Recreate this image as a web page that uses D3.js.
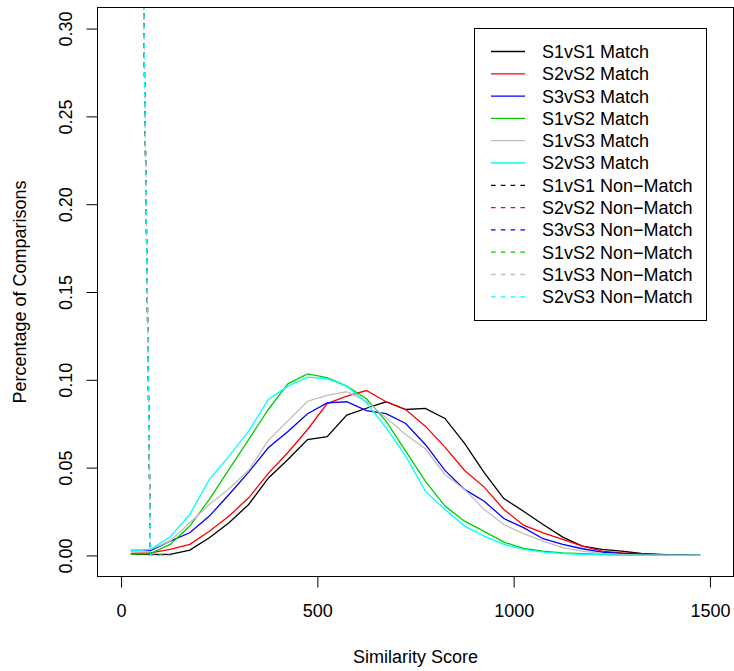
<!DOCTYPE html>
<html>
<head>
<meta charset="utf-8">
<script src="https://cdn.jsdelivr.net/npm/d3@7"></script>
<style>
  html, body { margin: 0; padding: 0; background: #fff; }
  svg { display: block; font-family: "Liberation Sans", Arial, Helvetica, sans-serif; }
</style>
</head>
<body>
<svg id="chart" width="734" height="671"></svg>
<script>
// ---- data ----
const scores = [25, 75, 125, 175, 225, 275, 325, 375, 425, 475, 525, 575, 625, 675, 725,
                775, 825, 875, 925, 975, 1025, 1075, 1125, 1175, 1225, 1275, 1325, 1375, 1425, 1475];

const s1s1Match = [0.0006, 0.0006, 0.0006, 0.0030, 0.0101, 0.0186, 0.0290, 0.0440, 0.0546, 0.0660,
                   0.0676, 0.0799, 0.0838, 0.0875, 0.0831, 0.0837, 0.0780, 0.0638, 0.0472, 0.0324,
                   0.0252, 0.0176, 0.0104, 0.0053, 0.0034, 0.0024, 0.0011, 0.0006, 0.0002, 0.0000];
const s2s2Match = [0.0011, 0.0015, 0.0034, 0.0063, 0.0138, 0.0224, 0.0328, 0.0467, 0.0586, 0.0717,
                   0.0865, 0.0907, 0.0939, 0.0875, 0.0831, 0.0736, 0.0617, 0.0484, 0.0389, 0.0262,
                   0.0172, 0.0129, 0.0091, 0.0053, 0.0024, 0.0015, 0.0008, 0.0003, 0.0001, 0.0000];
const s3s3Match = [0.0028, 0.0028, 0.0081, 0.0129, 0.0224, 0.0347, 0.0474, 0.0613, 0.0706, 0.0807,
                   0.0869, 0.0875, 0.0825, 0.0807, 0.0751, 0.0632, 0.0484, 0.0376, 0.0309, 0.0210,
                   0.0158, 0.0095, 0.0063, 0.0038, 0.0019, 0.0011, 0.0006, 0.0002, 0.0001, 0.0000];
const s1s2Match = [0.0006, 0.0011, 0.0063, 0.0167, 0.0319, 0.0490, 0.0660, 0.0831, 0.0977, 0.1034,
                   0.1012, 0.0964, 0.0892, 0.0765, 0.0594, 0.0423, 0.0281, 0.0195, 0.0137, 0.0076,
                   0.0040, 0.0024, 0.0015, 0.0010, 0.0006, 0.0003, 0.0001, 0.0000, 0.0000, 0.0000];
const s1s3Match = [0.0023, 0.0034, 0.0081, 0.0186, 0.0290, 0.0380, 0.0485, 0.0655, 0.0766, 0.0878,
                   0.0911, 0.0932, 0.0878, 0.0784, 0.0689, 0.0607, 0.0461, 0.0376, 0.0262, 0.0176,
                   0.0124, 0.0081, 0.0044, 0.0024, 0.0011, 0.0006, 0.0002, 0.0001, 0.0000, 0.0000];
const s2s3Match = [0.0028, 0.0034, 0.0106, 0.0233, 0.0433, 0.0565, 0.0708, 0.0888, 0.0964, 0.1015,
                   0.1006, 0.0964, 0.0869, 0.0727, 0.0565, 0.0366, 0.0262, 0.0167, 0.0110, 0.0063,
                   0.0034, 0.0019, 0.0011, 0.0006, 0.0003, 0.0001, 0.0000, 0.0000, 0.0000, 0.0000];

// non-match distributions: only the first bins are drawn in the reference
const s1s1NonMatch = [0.900, 0.0000, 0.0000];
const s2s2NonMatch = [0.900, 0.0000, 0.0000];
const s3s3NonMatch = [0.900, 0.0000, 0.0000];
const s1s2NonMatch = [0.900, 0.0000, 0.0000];
const s1s3NonMatch = [0.910, 0.0002, 0.0000];
const s2s3NonMatch = [0.900, 0.0000, 0.0000];

const seriesNames = ["S1vS1 Match", "S2vS2 Match", "S3vS3 Match", "S1vS2 Match", "S1vS3 Match", "S2vS3 Match",
                     "S1vS1 Non\u2212Match", "S2vS2 Non\u2212Match", "S3vS3 Non\u2212Match",
                     "S1vS2 Non\u2212Match", "S1vS3 Non\u2212Match", "S2vS3 Non\u2212Match"];
const seriesColors = ["#000000", "#ff0000", "#0000ff", "#00cd00", "#bebebe", "#00ffff",
                      "#000000", "#ff0000", "#0000ff", "#00cd00", "#bebebe", "#00ffff"];
const seriesValues = [s1s1Match, s2s2Match, s3s3Match, s1s2Match, s1s3Match, s2s3Match,
                      s1s1NonMatch, s2s2NonMatch, s3s3NonMatch, s1s2NonMatch, s1s3NonMatch, s2s3NonMatch];
const seriesDashed = [false, false, false, false, false, false, true, true, true, true, true, true];

const xTicks = [0, 500, 1000, 1500];
const yTicks = [0, 0.05, 0.10, 0.15, 0.20, 0.25, 0.30];
const xTitle = "Similarity Score";
const yTitle = "Percentage of Comparisons";

// ---- layout ----
const svg = d3.select("#chart");
const pL = 97.5, pR = 733.5, pT = 7.5, pB = 576.5;
const x = d3.scaleLinear().domain([-60, 1560]).range([pL, pR]);
const y = d3.scaleLinear().domain([-0.012, 0.312]).range([pB, pT]);
const FONT = 18;
const DASH = "4.6,5.2";

svg.append("defs").append("clipPath").attr("id", "plotclip")
  .append("rect").attr("x", pL).attr("y", pT).attr("width", pR - pL).attr("height", pB - pT);

// series lines
const line = d3.line().x((d, i) => x(scores[i])).y(d => y(d));
const plot = svg.append("g").attr("clip-path", "url(#plotclip)");
seriesValues.forEach((vals, k) => {
  plot.append("path")
    .datum(vals)
    .attr("d", line)
    .attr("fill", "none")
    .attr("stroke", seriesColors[k])
    .attr("stroke-width", 1.3)
    .attr("stroke-dasharray", seriesDashed[k] ? DASH : null);
});

// box
svg.append("rect").attr("x", pL).attr("y", pT).attr("width", pR - pL).attr("height", pB - pT)
  .attr("fill", "none").attr("stroke", "#000").attr("stroke-width", 1);

// x axis
const gx = svg.append("g").attr("transform", `translate(0,${pB})`)
  .call(d3.axisBottom(x).tickValues(xTicks).tickSize(11).tickFormat(d3.format("d")));
gx.select(".domain").remove();
gx.selectAll(".tick line").attr("stroke", "#000");
gx.selectAll(".tick text").attr("y", 40.5).attr("dy", 0).attr("fill", "#000")
  .style("font-size", FONT + "px").style("font-family", "Liberation Sans, Arial, sans-serif");

// y axis
const gy = svg.append("g").attr("transform", `translate(${pL},0)`)
  .call(d3.axisLeft(y).tickValues(yTicks).tickSize(11).tickFormat(d3.format(".2f")));
gy.select(".domain").remove();
gy.selectAll(".tick line").attr("stroke", "#000");
gy.selectAll(".tick text")
  .attr("transform", "rotate(-90)")
  .attr("x", 0).attr("y", -26).attr("dy", 0)
  .attr("text-anchor", "middle").attr("fill", "#000")
  .style("font-size", FONT + "px").style("font-family", "Liberation Sans, Arial, sans-serif");

// axis titles
svg.append("text").attr("x", (pL + pR) / 2).attr("y", 663)
  .attr("text-anchor", "middle").style("font-size", FONT + "px").text(xTitle);
svg.append("text").attr("transform", `translate(26,${(pT + pB) / 2}) rotate(-90)`)
  .attr("text-anchor", "middle").style("font-size", FONT + "px").text(yTitle);

// legend
const lg = svg.append("g");
lg.append("rect").attr("x", 474.5).attr("y", 28.5).attr("width", 232).attr("height", 292)
  .attr("fill", "#fff").attr("stroke", "#000").attr("stroke-width", 1);
seriesNames.forEach((name, k) => {
  const ry = 51.5 + k * 22.3;
  lg.append("line").attr("x1", 491).attr("x2", 525).attr("y1", ry).attr("y2", ry)
    .attr("stroke", seriesColors[k]).attr("stroke-width", 1.3)
    .attr("stroke-dasharray", seriesDashed[k] ? DASH : null);
  lg.append("text").attr("x", 542).attr("y", ry).attr("dy", "0.36em")
    .style("font-size", FONT + "px").attr("fill", "#000").text(name);
});
</script>
</body>
</html>
